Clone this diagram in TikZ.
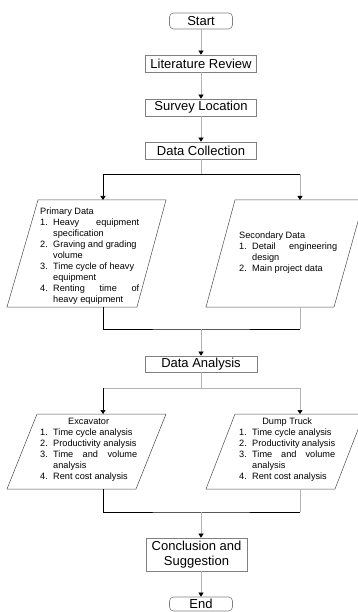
\documentclass[tikz,border=0pt]{standalone}
\usepackage{fontspec}
\setmainfont{Liberation Sans}
\usetikzlibrary{arrows.meta}
\newcommand{\lstitem}[2]{\par\noindent\hangindent=13pt\hangafter=1\makebox[13pt][l]{#1}#2\par}
\begin{document}
\begin{tikzpicture}[x=1pt,y=-1pt,>={Triangle[width=5pt,length=4pt,color=black]},
flowbox/.style={draw=gray,line width=0.6pt,minimum width=111pt,minimum height=17pt,inner sep=0pt,font=\fontsize{13}{15}\selectfont},
flowterm/.style={flowbox,rounded corners=4pt,minimum width=63pt,minimum height=16pt},
gline/.style={draw=gray!60,line width=0.5pt},
bline/.style={draw=black,line width=0.6pt},
para/.style={draw=black!70,line width=0.5pt},
paratext/.style={anchor=north west,inner sep=0pt,text width=99pt,align=justify,font=\fontsize{9.2}{11}\selectfont}]
\useasboundingbox(0,0)rectangle(358,612);
\node[flowterm](start)at(201,21){Start};
\node[flowbox](lit)at(201,63.5){Literature Review};
\node[flowbox](survey)at(201,107.5){Survey Location};
\node[flowbox](collect)at(201,150.5){Data Collection};
\draw[gline,->](start)--(lit);
\draw[gline,->](lit)--(survey);
\draw[gline,->](survey)--(collect);
\draw[para](38,200)--(166,200)--(137,307)--(7,307)--cycle;
\draw[para](235,200)--(364,200)--(334,307)--(206,307)--cycle;
\node[paratext](primary)at(40,208){\noindent Primary Data\par
\lstitem{1.}{Heavy\hfill equipment\\specification}
\lstitem{2.}{Graving and grading\\volume}
\lstitem{3.}{Time cycle of heavy\\equipment}
\lstitem{4.}{Renting\hfill time\hfill of\\heavy equipment}};
\node[paratext,text width=98pt](secondary)at(239,232){\noindent Secondary Data\par
\lstitem{1.}{Detail\hfill engineering\\design}
\lstitem{2.}{Main project data}};
\coordinate(split1)at(201,174);
\coordinate(primin)at(103,200);
\coordinate(secin)at(300,200);
\draw[gline](collect)--(split1);
\draw[bline,->](split1)-|(primin);
\draw[bline](split1)--(split1-|secin);
\draw[gline,->](split1-|secin)--(secin);
\coordinate(primout)at(103,307);
\coordinate(secout)at(300,307);
\coordinate(join1)at(201,329);
\node[flowbox,minimum width=112pt,minimum height=16pt](analysis)at(201,364){Data Analysis};
\draw[bline](primout)|-(join1)--(join1-|secout);
\draw[gline](secout)--(join1-|secout);
\draw[gline,->](join1)--(analysis);
\draw[para](37,414)--(166,414)--(136,489)--(7,489)--cycle;
\draw[para](235,414)--(364,414)--(335,489)--(206,489)--cycle;
\node[paratext,text width=97pt](excavator)at(40,418){{\centering Excavator\par}
\lstitem{1.}{Time cycle analysis}
\lstitem{2.}{Productivity analysis}
\lstitem{3.}{Time\hfill and\hfill volume\\analysis}
\lstitem{4.}{Rent cost analysis}};
\node[paratext,text width=96pt](dumptruck)at(239,418){{\centering Dump Truck\par}
\lstitem{1.}{Time cycle analysis}
\lstitem{2.}{Productivity analysis}
\lstitem{3.}{Time\hfill and\hfill volume\\analysis}
\lstitem{4.}{Rent cost analysis}};
\coordinate(split2)at(201,388);
\coordinate(excin)at(103,414);
\coordinate(dumpin)at(300,414);
\draw[gline](analysis)--(split2);
\draw[gline](split2)-|(excin);
\draw[bline,->](split2-|excin)--(excin);
\draw[gline,->](split2)-|(dumpin);
\coordinate(excout)at(103,489);
\coordinate(dumpout)at(300,489);
\coordinate(join2)at(201,512);
\node[flowbox,minimum width=101pt,minimum height=33pt,align=center](concl)at(196.5,554.5){Conclusion and\\Suggestion};
\node[flowterm,minimum height=14pt](finish)at(201,604){End};
\draw[bline](excout)|-(join2)--(join2-|dumpout);
\draw[gline](dumpout)--(join2-|dumpout);
\draw[gline,->](join2)--(join2|-concl.north);
\draw[gline,->](join2|-concl.south)--(finish);
\end{tikzpicture}
\end{document}
